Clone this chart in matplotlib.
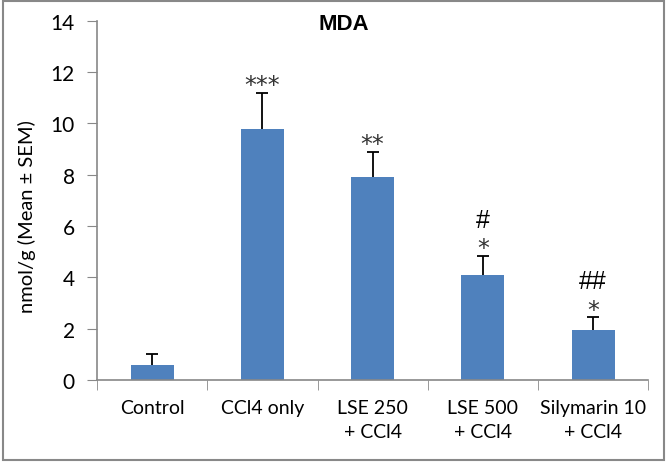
import matplotlib.pyplot as plt
import numpy as np
from matplotlib.patches import Rectangle

plt.rcParams['font.family'] = ['Lato', 'DejaVu Sans']

groups = ['Control', 'CCl4 only', 'LSE 250\n+ CCl4', 'LSE 500\n+ CCl4', 'Silymarin 10\n+ CCl4']
means = [0.6, 9.8, 7.9, 4.1, 1.95]
sem = [0.4, 1.4, 1.0, 0.75, 0.5]
stars = ['', '***', '**', '*', '*']
hashes = ['', '', '', '#', '##']

fig = plt.figure(figsize=(6.69, 4.64), dpi=100)
ax = fig.add_axes([0.145, 0.179, 0.824, 0.774])

x = np.arange(len(groups))
ax.bar(x, means, width=0.39, color='#4F81BD', zorder=2)
# only the upper half of the error bar, like Excel "plus" bars
eb = ax.errorbar(x, means, yerr=[np.zeros(len(sem)), sem], fmt='none', ecolor='black',
                 elinewidth=1.3, capsize=4, capthick=1.3, zorder=1)
eb[1][0].set_visible(False)  # no cap at the bar top

for i in range(len(groups)):
    top = means[i] + sem[i]
    if stars[i]:
        ax.text(x[i], top + 0.28, stars[i], ha='center', va='center', fontsize=17,
                family=['DejaVu Sans'], color='#333333')
    if hashes[i]:
        ax.text(x[i], top + 1.4, hashes[i], ha='center', va='center', fontsize=18,
                family=['Liberation Sans'], color='black')

ax.set_xlim(-0.5, len(groups) - 0.5)
ax.set_ylim(0, 14)
ax.set_yticks(np.arange(0, 15, 2))
ax.set_xticks(x)
ax.set_xticklabels(groups, fontsize=14, linespacing=1.5)
ax.set_xticks(np.arange(-0.5, len(groups), 1), minor=True)
ax.tick_params(axis='x', which='major', length=0, pad=14)
ax.tick_params(axis='x', which='minor', length=7, color='#888888', direction='out')
ax.tick_params(axis='y', labelsize=15, length=7, color='#888888', pad=9)

for s in ['top', 'right']:
    ax.spines[s].set_visible(False)
for s in ['left', 'bottom']:
    ax.spines[s].set_color('#888888')
    ax.spines[s].set_linewidth(1.2)

ax.set_ylabel('nmol/g (Mean \u00b1 SEM)', fontsize=14.5)
ax.yaxis.set_label_coords(-0.110, 0.457)
fig.text(0.514, 0.948, 'MDA', fontsize=16, fontweight='bold', family=['Liberation Sans'],
         ha='center', va='center')

fig.patches.append(Rectangle((0.004, 0.006), 0.988, 0.99, transform=fig.transFigure,
                             fill=False, edgecolor='#888888', linewidth=1.5))

fig.savefig('out.png', dpi=100)
